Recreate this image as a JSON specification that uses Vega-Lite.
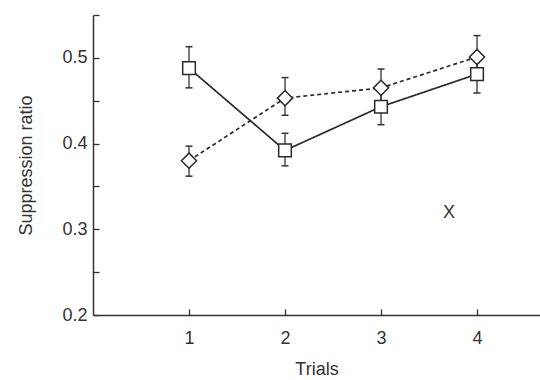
{
  "$schema": "https://vega.github.io/schema/vega-lite/v6.json",
  "width": 447,
  "height": 300,
  "autosize": "none",
  "padding": {"left": 93, "top": 15, "right": 0, "bottom": 65},
  "background": "white",
  "config": {
    "view": {"stroke": null},
    "font": "Liberation Sans",
    "axis": {
      "domainColor": "#333",
      "domainWidth": 1.5,
      "tickColor": "#333",
      "tickWidth": 1.3,
      "tickSize": -6,
      "grid": false,
      "labelColor": "#333",
      "labelFontSize": 18,
      "titleColor": "#333",
      "titleFontSize": 18,
      "titleFontWeight": "normal"
    },
    "legend": {
      "title": null,
      "symbolStrokeWidth": 1.5,
      "symbolFillColor": "white",
      "symbolStrokeColor": "#2a2a2a",
      "symbolSize": 3364,
      "labelFontSize": 18,
      "labelColor": "#333",
      "labelOffset": 16,
      "rowPadding": 0
    }
  },
  "data": {
    "values": [
      {"trial": 1, "series": "X", "value": 0.488, "lo": 0.465, "hi": 0.513},
      {"trial": 2, "series": "X", "value": 0.392, "lo": 0.374, "hi": 0.412},
      {"trial": 3, "series": "X", "value": 0.443, "lo": 0.422, "hi": 0.464},
      {"trial": 4, "series": "X", "value": 0.481, "lo": 0.459, "hi": 0.503},
      {"trial": 1, "series": "Y", "value": 0.380, "lo": 0.362, "hi": 0.397},
      {"trial": 2, "series": "Y", "value": 0.453, "lo": 0.433, "hi": 0.477},
      {"trial": 3, "series": "Y", "value": 0.465, "lo": 0.443, "hi": 0.487},
      {"trial": 4, "series": "Y", "value": 0.501, "lo": 0.478, "hi": 0.526}
    ]
  },
  "encoding": {
    "x": {
      "field": "trial",
      "type": "quantitative",
      "scale": {"domain": [0, 4.656], "nice": false, "zero": false},
      "axis": {"values": [1, 2, 3, 4], "title": "Trials", "labelPadding": 20, "titlePadding": 13}
    }
  },
  "layer": [
    {
      "mark": {"type": "rule", "color": "#333", "strokeWidth": 1.3},
      "encoding": {
        "y": {
          "field": "lo",
          "type": "quantitative",
          "scale": {"domain": [0.2, 0.55], "nice": false, "zero": false},
          "axis": {
            "values": [0.2, 0.25, 0.3, 0.35, 0.4, 0.45, 0.5, 0.55],
            "labelExpr": "round(datum.value*100) % 10 == 0 ? format(datum.value, '.1f') : ''",
            "title": "Suppression ratio",
            "labelPadding": 12,
            "titlePadding": 26
          }
        },
        "y2": {"field": "hi"}
      }
    },
    {
      "mark": {"type": "point", "shape": "stroke", "size": 49, "color": "#333", "strokeWidth": 1.5, "opacity": 1},
      "encoding": {"y": {"field": "lo", "type": "quantitative"}}
    },
    {
      "mark": {"type": "point", "shape": "stroke", "size": 49, "color": "#333", "strokeWidth": 1.5, "opacity": 1},
      "encoding": {"y": {"field": "hi", "type": "quantitative"}}
    },
    {
      "mark": {"type": "line", "color": "#2a2a2a", "strokeWidth": 1.7},
      "encoding": {
        "y": {"field": "value", "type": "quantitative"},
        "strokeDash": {
          "field": "series",
          "type": "nominal",
          "scale": {"range": [[1, 0], [4, 3]]},
          "legend": null
        }
      }
    },
    {
      "mark": {"type": "point", "filled": true, "fill": "white", "stroke": "#2a2a2a", "strokeWidth": 1.5},
      "encoding": {
        "y": {"field": "value", "type": "quantitative"},
        "size": {
          "field": "series",
          "type": "nominal",
          "scale": {"range": [160, 230]},
          "legend": null
        },
        "shape": {
          "field": "series",
          "type": "nominal",
          "scale": {"range": ["square", "diamond"]},
          "legend": null
        },
        "opacity": {
          "field": "series",
          "type": "nominal",
          "scale": {"domain": ["X", "Y"], "range": [1, 1]},
          "legend": {
            "orient": "none",
            "legendX": 274,
            "legendY": 168,
            "values": ["X"],
            "symbolType": "M-1,0H-0.21M0.21,0H1M-0.21,-0.21H0.21V0.21H-0.21Z"
          }
        },
        "fillOpacity": {
          "field": "series",
          "type": "nominal",
          "scale": {"domain": ["Y", "X"], "range": [1, 1]},
          "legend": {
            "orient": "none",
            "legendX": 274,
            "legendY": 199,
            "values": ["Y"],
            "symbolType": "M-1,0H-0.86M-0.75,0H-0.61M-0.5,0H-0.36M0.36,0H0.5M0.61,0H0.75M0.86,0H1M-0.24,0L0,-0.24L0.24,0L0,0.24Z"
          }
        }
      }
    }
  ]
}
